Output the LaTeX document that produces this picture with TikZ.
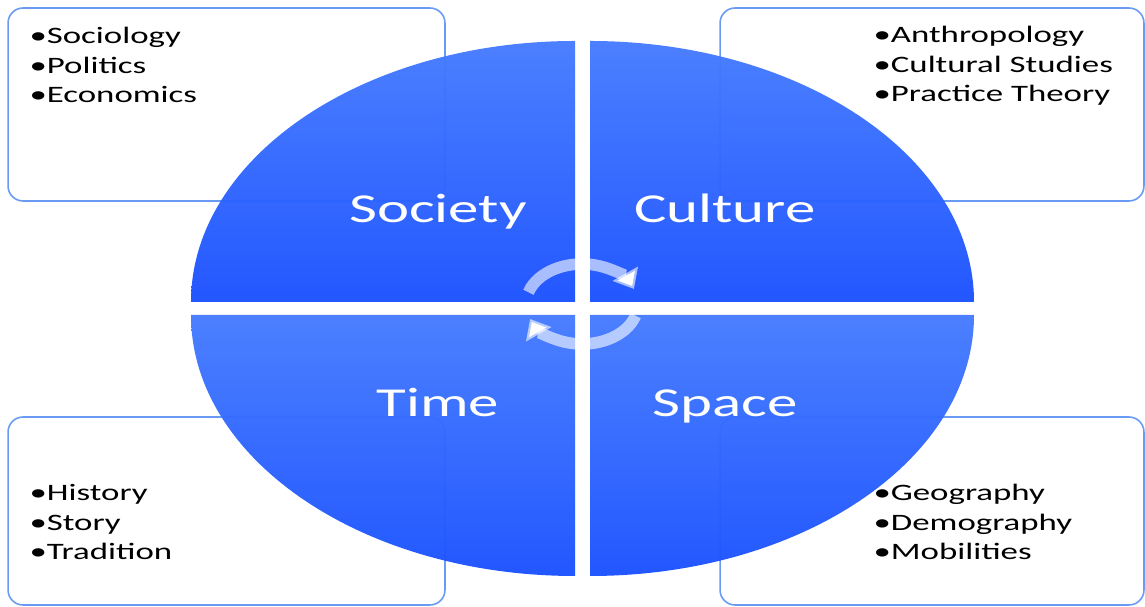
\documentclass[tikz,border=0pt]{standalone}
\usepackage{fontspec}
\setmainfont{Carlito}
\usetikzlibrary{arrows.meta}

\definecolor{quadtop}{RGB}{70,124,255}
\definecolor{quadbot}{RGB}{28,82,255}
\definecolor{boxline}{RGB}{105,155,245}

\begin{document}
\begin{tikzpicture}[
    x=0.02cm, y=0.02cm,
    listbox/.style={draw=boxline, line width=0.9pt, fill=white, rounded corners=0.3cm, inner sep=0pt},
    quad/.style={top color=quadtop, bottom color=quadbot, opacity=0.97},
    cyc/.style={draw=white, draw opacity=0.6, line width=6.6pt, -{Triangle[length=10pt, width=16pt]}},
    biglabel/.style={text=white, anchor=base, inner sep=0pt, xscale=1.48, font=\fontsize{23.4}{28}\selectfont},
    items/.style={anchor=base west, align=left, inner sep=0pt, xscale=1.48, font=\fontsize{13.4}{17}\selectfont}
]
\useasboundingbox (0,0) rectangle (1145,607);

% outer boxes
\node[listbox, minimum width=8.74cm, minimum height=3.86cm] (socbox) at (226.5,502.5) {};
\node[listbox, minimum width=8.48cm, minimum height=3.86cm] (culbox) at (932,502.5) {};
\node[listbox, minimum width=8.74cm, minimum height=3.76cm] (timebox) at (226.5,96) {};
\node[listbox, minimum width=8.48cm, minimum height=3.76cm] (spacebox) at (932,96) {};

% four quarters of the disc
\shade[quad] (575,305) -- ++(-384,0) arc[start angle=180, end angle=90, x radius=384, y radius=261] -- cycle;
\shade[quad] (590,305) -- ++(384,0) arc[start angle=0, end angle=90, x radius=384, y radius=261] -- cycle;
\shade[quad] (575,292) -- ++(-384,0) arc[start angle=180, end angle=270, x radius=384, y radius=261] -- cycle;
\shade[quad] (590,292) -- ++(384,0) arc[start angle=0, end angle=-90, x radius=384, y radius=261] -- cycle;

% cycle arrows in the middle
\coordinate (mid) at (582,303);
\draw[cyc] (mid) ++(163:56 and 40) arc[start angle=163, end angle=22, x radius=56, y radius=40];
\draw[cyc] (mid) ++(-17:56 and 40) arc[start angle=-17, end angle=-158, x radius=56, y radius=40];

\node[biglabel] (society) at (438,384) {Society};
\node[biglabel] (culture) at (725,384) {Culture};
\node[biglabel] (time) at (438,190) {Time};
\node[biglabel] (space) at (725,190) {Space};

% lists (base = last line)
\node[items] (soclist) at (29,504) {\textbullet Sociology\\\textbullet Politics\\\textbullet Economics};
\node[items] (cullist) at (873,505) {\textbullet Anthropology\\\textbullet Cultural Studies\\\textbullet Practice Theory};
\node[items] (timelist) at (29,47) {\textbullet History\\\textbullet Story\\\textbullet Tradition};
\node[items] (spacelist) at (873,47) {\textbullet Geography\\\textbullet Demography\\\textbullet Mobilities};
\end{tikzpicture}
\end{document}
